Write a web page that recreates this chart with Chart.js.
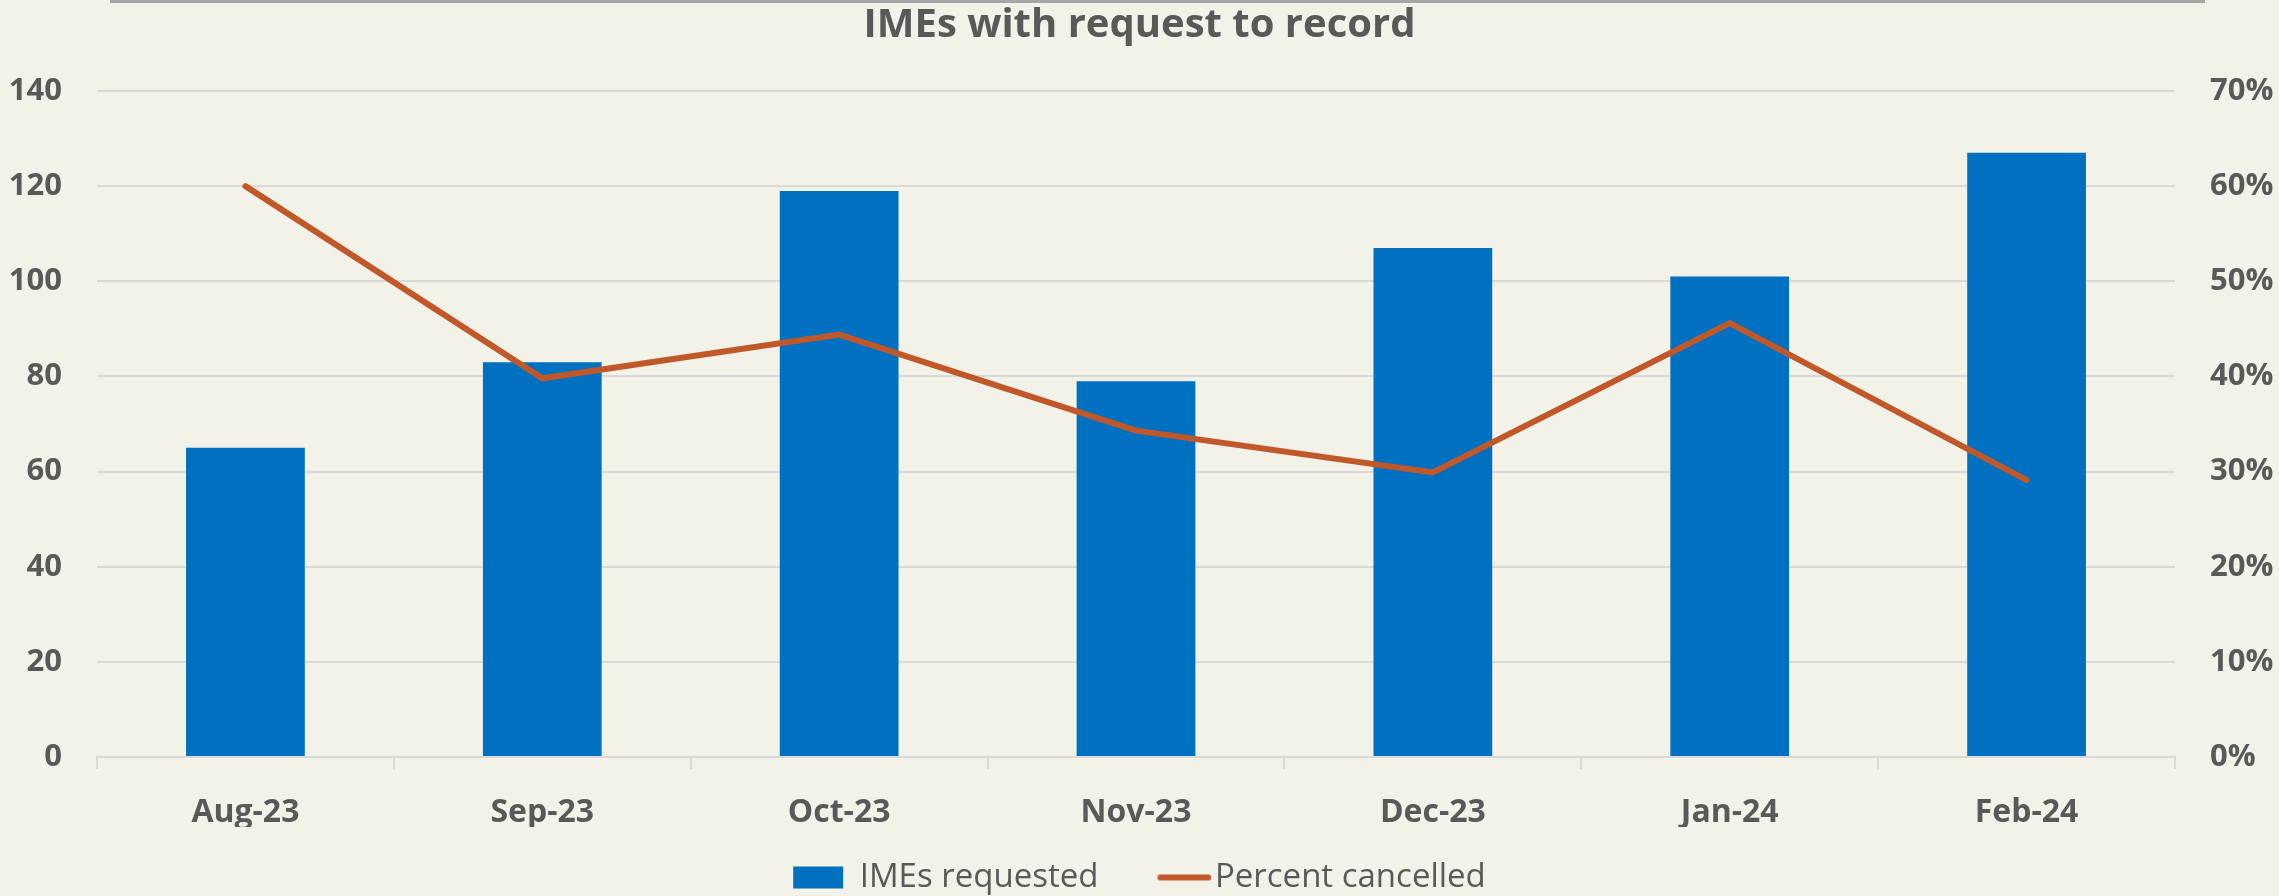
<!DOCTYPE html>
<html>
<head>
<meta charset="utf-8">
<script src="https://cdn.jsdelivr.net/npm/chart.js@4/dist/chart.umd.min.js"></script>
<style>
  html, body { margin: 0; padding: 0; background: #F3F2E8; }
  canvas { display: block; }
</style>
</head>
<body>
<canvas id="imeChart" width="2279" height="896"></canvas>
<script>
const months = ['Aug-23', 'Sep-23', 'Oct-23', 'Nov-23', 'Dec-23', 'Jan-24', 'Feb-24'];
const imesRequested = [65, 83, 119, 79, 107, 101, 127];
const percentCancelled = [0.600, 0.398, 0.444, 0.343, 0.299, 0.456, 0.291];
const countTicks = { min: 0, max: 140, step: 20 };
const percentTicks = { min: 0, max: 0.7, step: 0.1 };

const textColor = '#595959';
const gridColor = '#D9D9D9';
const barColor = '#0070C0';
const lineColor = '#C0582A';

// legend marker for the line: a short stroke that sits right up against its label
const lineMarker = document.createElement('canvas');
lineMarker.width = 76;
lineMarker.height = 8;
(function() {
    const m = lineMarker.getContext('2d');
    m.strokeStyle = lineColor;
    m.lineWidth = 6;
    m.lineCap = 'round';
    m.beginPath();
    m.moveTo(25, 4);
    m.lineTo(73, 4);
    m.stroke();
})();

// thin grey rule along the top edge, as in the original export
const topRule = {
    id: 'topRule',
    beforeDraw(chart) {
        const c = chart.ctx;
        c.save();
        c.strokeStyle = '#A6A6A6';
        c.lineWidth = 3;
        c.beginPath();
        c.moveTo(110, 1.5);
        c.lineTo(2205, 1.5);
        c.stroke();
        c.restore();
    }
};

// pull the legend up a bit so the wide item gap doesn't push it off the canvas
const legendNudge = {
    id: 'legendNudge',
    afterLayout(chart) {
        chart.legend.top -= 16;
        chart.legend.bottom -= 16;
    }
};

document.addEventListener('DOMContentLoaded', function() {
    const ctx = document.getElementById('imeChart');

    new Chart(ctx, {
        type: 'bar',
        data: {
            labels: months,
            datasets: [{
                type: 'line',
                label: 'Percent cancelled',
                data: percentCancelled,
                yAxisID: 'yPct',
                borderColor: lineColor,
                backgroundColor: lineColor,
                borderWidth: 6,
                borderCapStyle: 'round',
                pointRadius: 0,
                tension: 0,
                pointStyle: lineMarker,
                order: 1
            }, {
                type: 'bar',
                label: 'IMEs requested',
                data: imesRequested,
                yAxisID: 'y',
                backgroundColor: barColor,
                borderWidth: 0,
                barPercentage: 0.4,
                categoryPercentage: 1.0,
                pointStyle: 'rect',
                order: 2
            }]
        },
        options: {
            responsive: false,
            animation: false,
            layout: {
                padding: { top: 0, left: 0, right: 0, bottom: -24 }
            },
            scales: {
                x: {
                    offset: true,
                    grid: {
                        display: true,
                        offset: true,
                        drawOnChartArea: false,
                        drawTicks: true,
                        tickLength: 12,
                        color: gridColor,
                        lineWidth: 2
                    },
                    border: { display: true, color: gridColor, width: 2 },
                    ticks: {
                        color: textColor,
                        padding: 25,
                        font: { family: 'Open Sans', weight: 'bold', size: 32 }
                    },
                    afterFit: function(scale) { scale.height = 70; }
                },
                y: {
                    position: 'left',
                    min: countTicks.min,
                    max: countTicks.max,
                    ticks: {
                        stepSize: countTicks.step,
                        color: textColor,
                        padding: 35,
                        font: { family: 'Open Sans', weight: 'bold', size: 31 }
                    },
                    grid: { color: gridColor, lineWidth: 2, drawTicks: false },
                    border: { display: false },
                    afterFit: function(scale) { scale.width = 97; }
                },
                yPct: {
                    position: 'right',
                    min: percentTicks.min,
                    max: percentTicks.max,
                    ticks: {
                        stepSize: percentTicks.step,
                        color: textColor,
                        padding: 35,
                        font: { family: 'Open Sans', weight: 'bold', size: 31 },
                        callback: function(v) { return Math.round(v * 100) + '%'; }
                    },
                    grid: { display: false, drawTicks: false },
                    border: { display: false },
                    afterFit: function(scale) { scale.width = 104; }
                }
            },
            plugins: {
                title: {
                    display: true,
                    text: 'IMEs with request to record',
                    color: textColor,
                    font: { family: 'Open Sans', weight: 'bold', size: 40 },
                    padding: { top: 2, bottom: 41 }
                },
                legend: {
                    position: 'bottom',
                    reverse: true,
                    labels: {
                        usePointStyle: true,
                        pointStyleWidth: 50,
                        boxHeight: 22,
                        padding: 50,
                        color: textColor,
                        font: { family: 'Open Sans', size: 33 }
                    }
                },
                tooltip: { enabled: false }
            }
        },
        plugins: [topRule, legendNudge]
    });
});
</script>
</body>
</html>
